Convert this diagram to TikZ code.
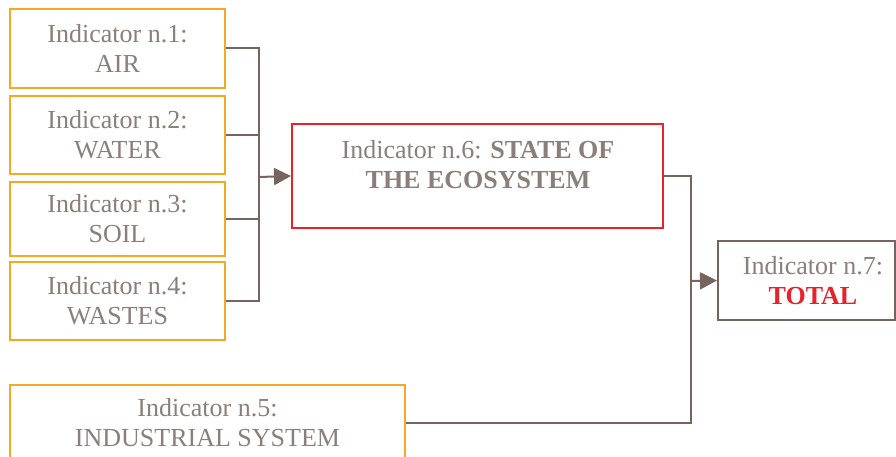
\documentclass[tikz,border=0pt]{standalone}
\usepackage{fontspec}
\setmainfont{Liberation Serif}[Ligatures=TeX]
\newfontfamily\diagfont{Liberation Serif}
\usetikzlibrary{arrows.meta}
\definecolor{txtgray}{HTML}{8C7F7A}
\definecolor{linebrown}{HTML}{76655E}
\definecolor{boxorange}{HTML}{F7A823}
\definecolor{boxred}{HTML}{E8222B}
\tikzset{
  x=1pt, y=-1pt,
  lbl/.style={text=txtgray, align=center, inner sep=0pt,
    font=\diagfont\fontsize{26}{30}\selectfont},
  ind/.style={lbl, draw=boxorange, line width=2pt},
  link/.style={draw=linebrown, line width=2pt},
  arr/.style={link, -{Triangle[length=17pt,width=17pt]}},
}
\begin{document}
\begin{tikzpicture}
\clip (0,0) rectangle (896,457);
\fill[white] (0,0) rectangle (896,457);

% source indicators
\node[ind, minimum width=215pt, minimum height=79pt] (b1) at (117.5,48.5) {Indicator n.1:\\AIR};
\node[ind, minimum width=215pt, minimum height=78pt] (b2) at (117.5,135) {Indicator n.2:\\WATER};
\node[ind, minimum width=215pt, minimum height=74pt] (b3) at (117.5,219) {Indicator n.3:\\SOIL};
\node[ind, minimum width=215pt, minimum height=78pt] (b4) at (117.5,301) {Indicator n.4:\\WASTES};
\node[ind, minimum width=395pt, minimum height=75pt] (b5) at (207.5,422.5) {Indicator n.5:\\INDUSTRIAL SYSTEM};

% ecosystem state
\node[ind, draw=boxred, minimum width=371pt, minimum height=104pt] (b6) at (477.5,176) {};
\node[lbl] (t6) at (478,165)
  {Indicator n.6: \textbf{STATE OF}\\\textbf{THE ECOSYSTEM}};

% total
\node[ind, draw=linebrown, minimum width=177pt, minimum height=79pt] (b7) at (806.5,280.5) {};
\node[lbl] (t7) at (813,281)
  {Indicator n.7:\\\textcolor{boxred}{\textbf{TOTAL}}};

% junctions
\coordinate (j1) at (259,177);
\coordinate (j2) at (691,281);

\draw[link] (b1.east) -| (j1);
\draw[link] (b2.east) -| (j1);
\draw[link] (b3.east) -| (j1);
\draw[link] (b4.east) -| (j1);
\draw[arr] (j1) -- (b6.west);

\draw[link] (b6.east) -| (j2);
\draw[link] (b5.east) -| (j2);
\draw[arr] (j2) -- (b7.west);
\end{tikzpicture}
\end{document}
